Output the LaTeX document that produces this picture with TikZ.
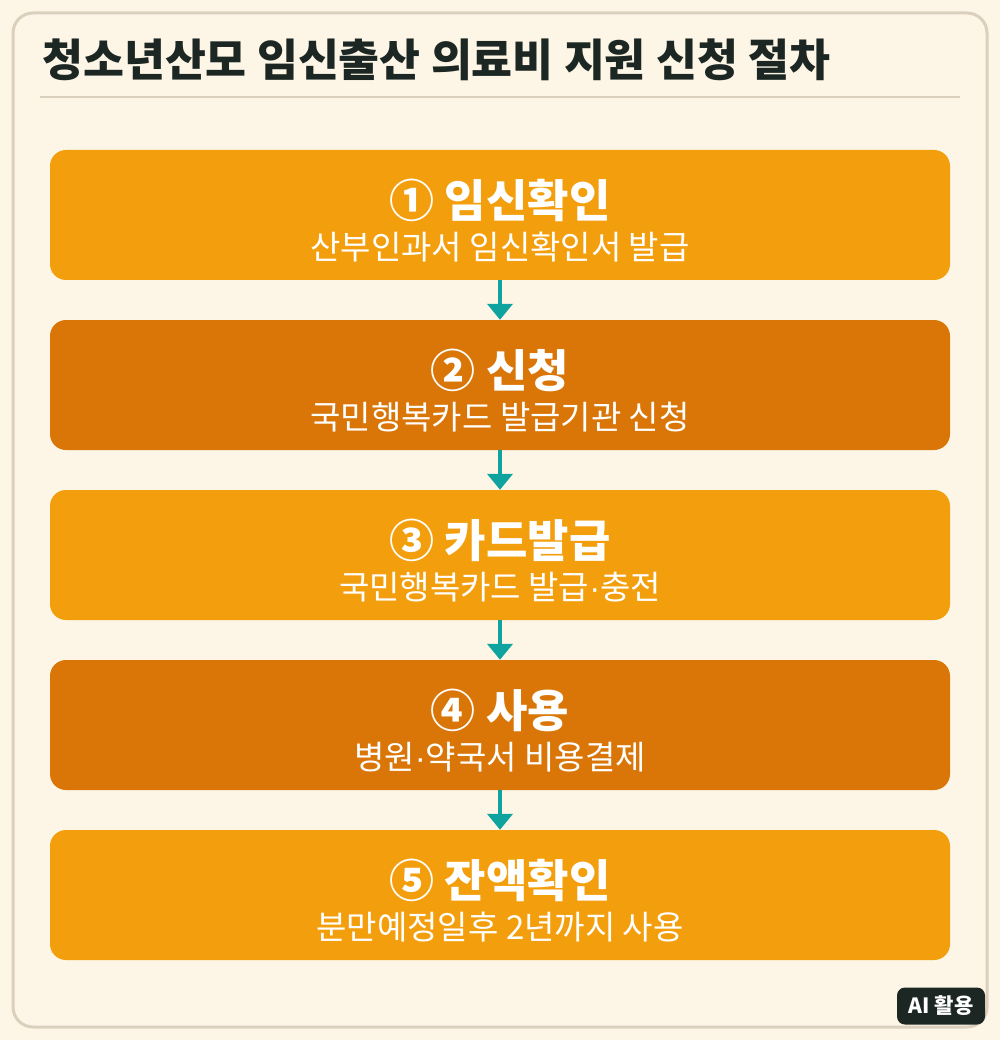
\documentclass[tikz,border=0pt]{standalone}
\usepackage{fontspec}
\setmainfont{Noto Sans CJK KR}
\newfontfamily\dotfont{Liberation Sans}
\usetikzlibrary{arrows.meta}
\definecolor{cream}{HTML}{FDF6E6}
\definecolor{frameline}{HTML}{DBD0BE}
\definecolor{inkdark}{HTML}{1C2724}
\definecolor{steplight}{HTML}{F39F0D}
\definecolor{stepdark}{HTML}{D97607}
\definecolor{flowteal}{HTML}{0EA39E}
\newcommand{\middot}{{\dotfont ·}}
\tikzstyle{stepbox}=[rectangle, rounded corners=16pt, minimum width=900pt, minimum height=130pt, inner sep=0pt]
\tikzstyle{stepa}=[stepbox, fill=steplight]
\tikzstyle{stepb}=[stepbox, fill=stepdark]
\tikzstyle{steptitle}=[text=white, inner sep=0pt, font=\fontsize{45}{50}\selectfont\bfseries]
\tikzstyle{stepnote}=[text=white, inner sep=0pt, font=\fontsize{33}{38}\selectfont]
\tikzstyle{flow}=[line width=4pt, flowteal, -{Triangle[width=25pt,length=16pt]}]

\begin{document}
\begin{tikzpicture}[x=1pt,y=-1pt]
  \useasboundingbox[fill=cream] (0,0) rectangle (1000,1040);
  \draw[frameline, line width=3pt, rounded corners=20pt] (13,13) rectangle (987,1027);

  % title
  \node[anchor=west, inner sep=0pt, text=inkdark, font=\fontsize{44.5}{50}\selectfont\bfseries] (title) at (42,60) {청소년산모 임신출산 의료비 지원 신청 절차};
  \draw[frameline, line width=2pt] (40,97) -- (960,97);

  % steps
  \node[stepa] (s1) at (500,215) {};
  \node[steptitle] (s1t) at (500,200) {① 임신확인};
  \node[stepnote] (s1n) at (500,247) {산부인과서 임신확인서 발급};

  \node[stepb] (s2) at (500,385) {};
  \node[steptitle] (s2t) at (500,370) {② 신청};
  \node[stepnote] (s2n) at (500,417) {국민행복카드 발급기관 신청};

  \node[stepa] (s3) at (500,555) {};
  \node[steptitle] (s3t) at (500,540) {③ 카드발급};
  \node[stepnote] (s3n) at (500,587) {국민행복카드 발급\middot 충전};

  \node[stepb] (s4) at (500,725) {};
  \node[steptitle] (s4t) at (500,710) {④ 사용};
  \node[stepnote] (s4n) at (500,757) {병원\middot 약국서 비용결제};

  \node[stepa] (s5) at (500,895) {};
  \node[steptitle] (s5t) at (500,880) {⑤ 잔액확인};
  \node[stepnote] (s5n) at (500,927) {분만예정일후 2년까지 사용};

  \draw[flow] (s1.south) -- (s2.north);
  \draw[flow] (s2.south) -- (s3.north);
  \draw[flow] (s3.south) -- (s4.north);
  \draw[flow] (s4.south) -- (s5.north);

  % badge
  \node[fill=inkdark, text=white, rounded corners=8pt, minimum width=88pt, minimum height=37pt, inner sep=0pt, font=\fontsize{21}{24}\selectfont\bfseries] (badge) at (941,1006) {AI 활용};
\end{tikzpicture}
\end{document}
